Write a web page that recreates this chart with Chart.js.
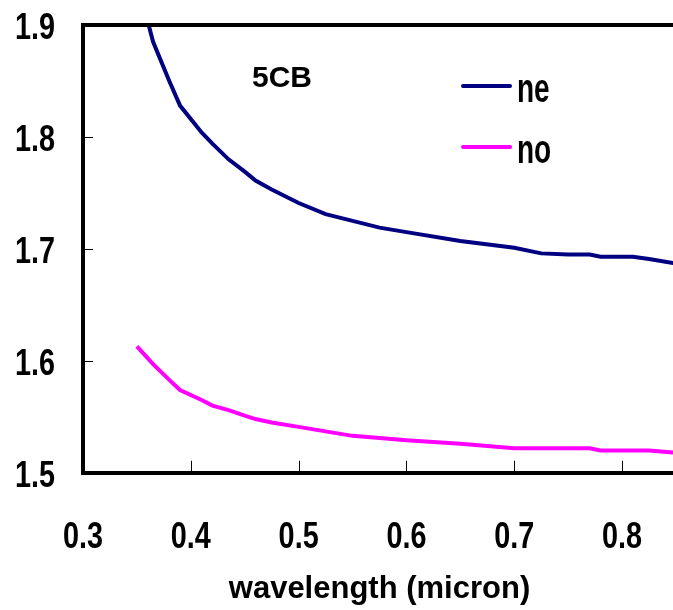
<!DOCTYPE html>
<html>
<head>
<meta charset="utf-8">
<script src="https://cdn.jsdelivr.net/npm/chart.js@4/dist/chart.umd.min.js"></script>
<style>
  html, body { margin: 0; padding: 0; background: #fff; overflow: hidden; }
  #wrap { width: 680px; height: 610px; }
</style>
</head>
<body>
<div id="wrap"><canvas id="c" width="680" height="610"></canvas></div>
<script>
// Refractive indices of 5CB versus wavelength (micron)
const wavelength = [0.35, 0.365, 0.38, 0.39, 0.41, 0.42, 0.435, 0.45, 0.46, 0.475, 0.50, 0.525,
                    0.55, 0.575, 0.60, 0.65, 0.70, 0.725, 0.75, 0.77, 0.78, 0.81, 0.825, 0.85];
const ne = [1.940, 1.885, 1.850, 1.828, 1.804, 1.794, 1.780, 1.769, 1.761, 1.753, 1.741, 1.731,
            1.725, 1.719, 1.715, 1.707, 1.701, 1.696, 1.695, 1.695, 1.693, 1.693, 1.691, 1.687];
const no = [1.613, 1.597, 1.583, 1.574, 1.565, 1.560, 1.556, 1.551, 1.548, 1.545, 1.541, 1.537,
            1.533, 1.531, 1.529, 1.526, 1.522, 1.522, 1.522, 1.522, 1.520, 1.520, 1.520, 1.518];
const seriesLabels = ['ne', 'no'];
const xTickValues = [0.3, 0.4, 0.5, 0.6, 0.7, 0.8];
const yTickValues = [1.5, 1.6, 1.7, 1.8, 1.9];
const xTitle = 'wavelength (micron)';
const sampleName = '5CB';

const SANS = '"Liberation Sans", Arial, sans-serif';

const toPoints = ys => wavelength.map((x, i) => ({ x, y: ys[i] }));

// Text squeezed horizontally, like a condensed face
function narrowText(ctx, text, x, y, align, sx) {
  ctx.save();
  ctx.translate(x, y);
  ctx.scale(sx, 1);
  ctx.textAlign = align;
  ctx.textBaseline = 'alphabetic';
  ctx.fillText(text, 0, 0);
  ctx.restore();
}

// Frame top edge, inward tick marks, tick labels, sample name and legend
const decorations = {
  id: 'decorations',
  afterDatasetsDraw(chart) {
    const { ctx, chartArea: a, scales } = chart;
    const xs = scales.x, ys = scales.y;
    ctx.save();
    ctx.strokeStyle = '#000';
    ctx.lineWidth = 4;
    ctx.beginPath();
    ctx.moveTo(a.left - 2, a.top);
    ctx.lineTo(a.right + 4, a.top);
    ctx.stroke();

    ctx.lineWidth = 1;
    ctx.beginPath();
    xs.ticks.forEach(t => {
      if (t.value <= xs.min) return;
      const px = Math.round(xs.getPixelForValue(t.value)) + 0.5;
      ctx.moveTo(px, a.bottom);
      ctx.lineTo(px, a.bottom - 12);
    });
    ys.ticks.forEach(t => {
      if (t.value <= ys.min || t.value >= ys.max) return;
      const py = Math.round(ys.getPixelForValue(t.value)) + 0.5;
      ctx.moveTo(a.left, py);
      ctx.lineTo(a.left + 10, py);
    });
    ctx.stroke();

    ctx.fillStyle = '#000';
    ctx.font = 'bold 36px ' + SANS;
    xs.ticks.forEach(t => {
      narrowText(ctx, t.value.toFixed(1), xs.getPixelForValue(t.value), a.bottom + 75, 'center', 0.8);
    });
    ys.ticks.forEach(t => {
      narrowText(ctx, t.value.toFixed(1), a.left - 28, ys.getPixelForValue(t.value) + 14, 'right', 0.8);
    });

    ctx.font = 'bold 30px ' + SANS;
    ctx.textAlign = 'left';
    ctx.textBaseline = 'alphabetic';
    ctx.fillText(sampleName, a.left + 169, a.top + 62);

    chart.data.datasets.forEach((ds, i) => {
      const y = a.top + 61 + i * 61;
      ctx.strokeStyle = ds.borderColor;
      ctx.lineWidth = 4;
      ctx.lineCap = 'round';
      ctx.beginPath();
      ctx.moveTo(a.left + 380, y);
      ctx.lineTo(a.left + 427, y);
      ctx.stroke();
      ctx.font = 'bold 40px ' + SANS;
      narrowText(ctx, ds.label, a.left + 434, y + 16, 'left', 0.7);
    });
    ctx.restore();
  }
};

new Chart(document.getElementById('c'), {
  type: 'line',
  data: {
    datasets: [
      { label: seriesLabels[0], data: toPoints(ne), borderColor: '#000080', borderWidth: 4,
        pointRadius: 0, tension: 0, fill: false },
      { label: seriesLabels[1], data: toPoints(no), borderColor: '#ff00ff', borderWidth: 4,
        pointRadius: 0, tension: 0, fill: false }
    ]
  },
  options: {
    responsive: false,
    animation: false,
    layout: { padding: { left: 83, right: 4, top: 25, bottom: 2 } },
    plugins: { legend: { display: false }, tooltip: { enabled: false } },
    scales: {
      x: {
        type: 'linear', min: 0.3, max: 0.85,
        afterBuildTicks: s => { s.ticks = xTickValues.map(v => ({ value: v })); },
        grid: { display: true, drawOnChartArea: false, drawTicks: false },
        border: { display: true, color: '#000', width: 4 },
        ticks: { display: false },
        title: { display: true, text: xTitle, color: '#000',
                 font: { family: SANS, size: 31, weight: 'bold' },
                 padding: { top: 98, bottom: 0 } }
      },
      y: {
        type: 'linear', min: 1.5, max: 1.9,
        afterBuildTicks: s => { s.ticks = yTickValues.map(v => ({ value: v })); },
        grid: { display: true, drawOnChartArea: false, drawTicks: false },
        border: { display: true, color: '#000', width: 4 },
        ticks: { display: false }
      }
    }
  },
  plugins: [decorations]
});
</script>
</body>
</html>
